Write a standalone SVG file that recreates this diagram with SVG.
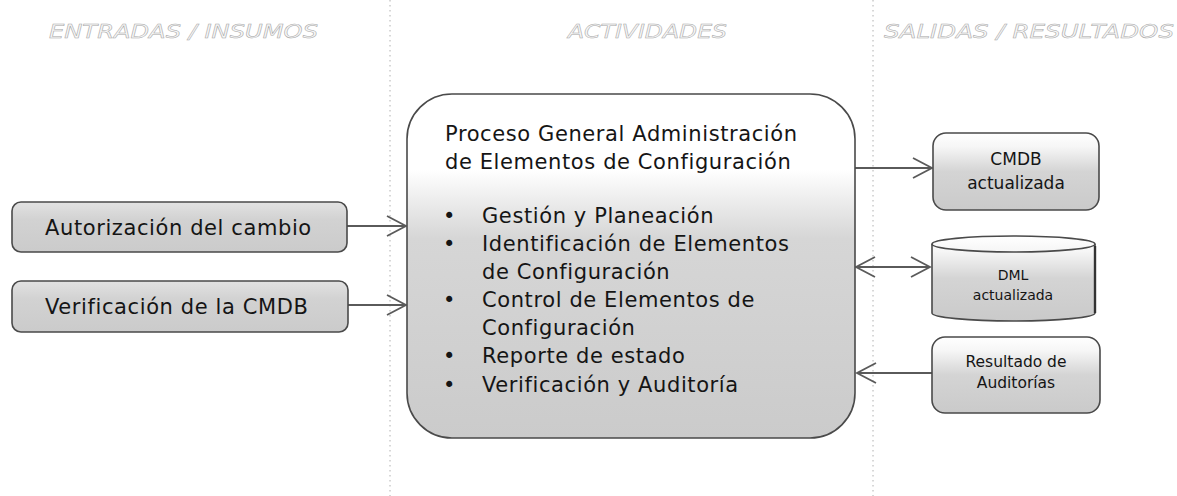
<svg xmlns="http://www.w3.org/2000/svg" width="1177" height="496" viewBox="0 0 1177 496">
<style>
.hdr{font-family:"DejaVu Sans",sans-serif;font-style:italic;font-size:19px;fill:#f7f7f7;stroke:#a8a8a8;stroke-width:0.5px}
.txt{font-family:"DejaVu Sans",sans-serif;font-size:21px;fill:#151515;letter-spacing:0.6px}
.sm{font-family:"DejaVu Sans",sans-serif;fill:#151515;text-anchor:middle}
.box{stroke:#4a4a4a;stroke-width:1.6}
.conn{fill:none;stroke:#5a5a5a;stroke-width:1.8}
.div{stroke:#b0b0b0;stroke-width:1;stroke-dasharray:1.5 3.5}
</style>
<defs>
<linearGradient id="gCenter" x1="0" y1="0" x2="0" y2="1">
<stop offset="0" stop-color="#ffffff"/>
<stop offset="0.22" stop-color="#ffffff"/>
<stop offset="0.42" stop-color="#d6d6d6"/>
<stop offset="1" stop-color="#cbcbcb"/>
</linearGradient>
<linearGradient id="gLeft" x1="0" y1="0" x2="0" y2="1">
<stop offset="0" stop-color="#e2e2e2"/>
<stop offset="0.35" stop-color="#d2d2d2"/>
<stop offset="1" stop-color="#cbcbcb"/>
</linearGradient>
<linearGradient id="gRight" x1="0" y1="0" x2="0" y2="1">
<stop offset="0" stop-color="#ffffff"/>
<stop offset="0.18" stop-color="#f6f6f6"/>
<stop offset="0.5" stop-color="#d4d4d4"/>
<stop offset="1" stop-color="#cacaca"/>
</linearGradient>
<marker id="arr" viewBox="0 0 22 22" refX="20" refY="11" markerWidth="22" markerHeight="22" markerUnits="userSpaceOnUse" orient="auto-start-reverse">
<path d="M1,1 L20,11 L1,21" fill="none" stroke="#5a5a5a" stroke-width="1.8"/>
</marker>
</defs>
<rect width="1177" height="496" fill="#ffffff"/>

<g id="dividers">
<line class="div" x1="390" y1="0" x2="390" y2="496"/>
<line class="div" x1="873" y1="0" x2="873" y2="496"/>
</g>

<g id="headers">
<text class="hdr" x="49" y="38" textLength="269" lengthAdjust="spacingAndGlyphs">ENTRADAS / INSUMOS</text>
<text class="hdr" x="568" y="38" textLength="159" lengthAdjust="spacingAndGlyphs">ACTIVIDADES</text>
<text class="hdr" x="884" y="38" textLength="290" lengthAdjust="spacingAndGlyphs">SALIDAS / RESULTADOS</text>
</g>

<g id="connectors">
<path class="conn" d="M347,226 L406,226" marker-end="url(#arr)"/>
<path class="conn" d="M348,305 L406,305" marker-end="url(#arr)"/>
<path class="conn" d="M855,168 L932,168" marker-end="url(#arr)"/>
<path class="conn" d="M856,267 L930,267" marker-start="url(#arr)" marker-end="url(#arr)"/>
<path class="conn" d="M932,373 L857,373" marker-end="url(#arr)"/>
</g>

<g id="node-autorizacion">
<rect class="box" x="12" y="202" width="335" height="50" rx="9" fill="url(#gLeft)"/>
<text class="txt" x="45" y="235">Autorización del cambio</text>
</g>

<g id="node-verificacion">
<rect class="box" x="12" y="281" width="336" height="51" rx="9" fill="url(#gLeft)"/>
<text class="txt" x="45" y="314">Verificación de la CMDB</text>
</g>

<g id="node-proceso">
<rect class="box" x="407" y="94" width="448" height="344" rx="45" fill="url(#gCenter)"/>
<text class="txt" x="445" y="141">Proceso General Administración</text>
<text class="txt" x="445" y="169">de Elementos de Configuración</text>
<text class="txt" x="443" y="223">•</text>
<text class="txt" x="482" y="223">Gestión y Planeación</text>
<text class="txt" x="443" y="251">•</text>
<text class="txt" x="482" y="251">Identificación de Elementos</text>
<text class="txt" x="482" y="279">de Configuración</text>
<text class="txt" x="443" y="307">•</text>
<text class="txt" x="482" y="307">Control de Elementos de</text>
<text class="txt" x="482" y="335">Configuración</text>
<text class="txt" x="443" y="363">•</text>
<text class="txt" x="482" y="363">Reporte de estado</text>
<text class="txt" x="443" y="392">•</text>
<text class="txt" x="482" y="392">Verificación y Auditoría</text>
</g>

<g id="node-cmdb">
<rect class="box" x="933" y="133" width="166" height="77" rx="13" fill="url(#gRight)"/>
<text class="sm" x="1016" y="165" font-size="17">CMDB</text>
<text class="sm" x="1016" y="189" font-size="17">actualizada</text>
</g>

<g id="node-dml">
<path class="box" d="M932,244 L932,313 A81.5,8 0 0 0 1095,313 L1095,244 A81.5,8 0 0 0 932,244 Z" fill="url(#gRight)"/>
<path d="M932,244 A81.5,8 0 0 0 1095,244" fill="none" stroke="#4a4a4a" stroke-width="1.6"/>
<line x1="1095" y1="246" x2="1095" y2="313" stroke="#333" stroke-width="2.4"/>
<text class="sm" x="1013" y="280" font-size="14">DML</text>
<text class="sm" x="1013" y="300" font-size="14">actualizada</text>
</g>

<g id="node-resultado">
<rect class="box" x="932" y="337" width="168" height="76" rx="13" fill="url(#gRight)"/>
<text class="sm" x="1016" y="367" font-size="15.5">Resultado de</text>
<text class="sm" x="1016" y="388" font-size="15.5">Auditorías</text>
</g>
</svg>
